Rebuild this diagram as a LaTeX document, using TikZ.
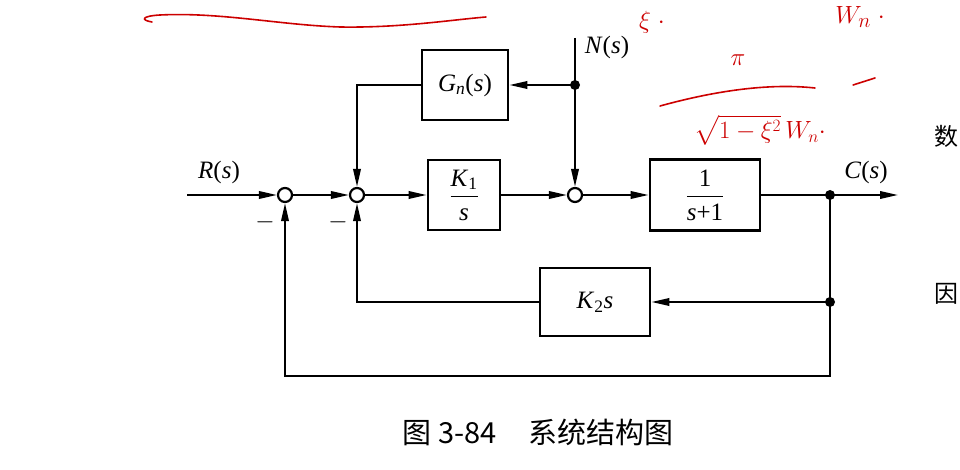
\documentclass[tikz,border=0pt]{standalone}
\usepackage{amsmath}
\usepackage{fontspec}
\setmainfont{Liberation Serif}
\newfontfamily\cjk{Noto Sans CJK SC}
\usetikzlibrary{arrows.meta}
\newcommand{\vi}[1]{\textit{#1}}
\begin{document}
\begin{tikzpicture}[x=1pt,y=-1pt,
  line width=2pt,
  >={Triangle[length=18pt,width=7.5pt]},
  blk/.style={draw,line width=2.8pt,minimum width=#1,inner sep=0pt},
  sumc/.style={draw,circle,line width=2.2pt,fill=white,minimum size=14pt,inner sep=0pt},
  dotc/.style={circle,fill=black,minimum size=10pt,inner sep=0pt},
  lbl/.style={font=\fontsize{25}{27}\selectfont},
  hand/.style={red!80!black,line width=1.6pt,line cap=round,line join=round}]
\useasboundingbox (0,0) rectangle (960,470);
% blocks
\node[blk=86pt,minimum height=70pt,lbl] (gn) at (465,85) {\vi{G}\textsubscript{\vi{n}}(\vi{s})};
\node[blk=72pt,minimum height=70pt,lbl] (k1) at (464,195) {$\dfrac{\text{\vi{K}}_{\text{1}}}{\text{\vi{s}}}$};
\node[blk=110pt,minimum height=71pt,lbl] (pl) at (705,195) {$\dfrac{\text{1}}{\text{\vi{s}+1}}$};
\node[blk=110pt,minimum height=68pt,lbl] (k2) at (595,302) {\vi{K}\textsubscript{2}\vi{s}};
% summing points
\node[sumc] (s1) at (285,195) {};
\node[sumc] (s2) at (357,195) {};
\node[sumc] (s3) at (575,195) {};
% take-off points
\node[dotc] (nd) at (575,85) {};
\node[dotc] (cd) at (830,195) {};
\node[dotc] (fd) at (830,302) {};
% free ends
\coordinate (rin) at (187,195);
\coordinate (cout) at (898,195);
\coordinate (nin) at (575,38);
\coordinate (gl) at (357,85);
\coordinate (kl) at (357,302);
\coordinate (bl) at (830,376);
\coordinate (br) at (285,376);
% labels
\node[lbl] (rl) at (219,172) {\vi{R}(\vi{s})};
\node[lbl] (cl) at (866,172) {\vi{C}(\vi{s})};
\node[lbl] (nl) at (607,47) {\vi{N}(\vi{s})};
\node[lbl] (m1) at (265,222) {$-$};
\node[lbl] (m2) at (338,222) {$-$};
% forward path
\draw[->] (rin) -- (s1.west);
\draw[->] (s1.east) -- (s2.west);
\draw[->] (s2.east) -- (k1.west);
\draw[->] (k1.east) -- (s3.west);
\draw[->] (s3.east) -- (pl.west);
\draw (pl.east) -- (cd.center);
\draw[->] (cd.center) -- (cout);
% disturbance
\draw (nin) -- (nd.center);
\draw[->] (nd.center) -- (s3.north);
\draw[->] (nd.center) -- (gn.east);
\draw[->] (gn.west) -- (gl) -- (s2.north);
% inner feedback
\draw (cd.center) -- (fd.center);
\draw[->] (fd.center) -- (k2.east);
\draw[->] (k2.west) -- (kl) -- (s2.south);
% outer feedback
\draw[->] (fd.center) -- (bl) -- (br) -- (s1.south);
% caption
\node[font=\cjk\fontsize{29}{31}\selectfont] (cap) at (538,432) {图 3-84\hspace{1.1em}系统结构图};
\node[font=\cjk\fontsize{24}{26}\selectfont,inner sep=0pt] (pg1) at (946,136) {数};
\node[font=\cjk\fontsize{24}{26}\selectfont,inner sep=0pt] (pg2) at (946,294) {因};
% handwritten annotations
\draw[hand] (152,22) .. controls (140,20) and (142,16) .. (160,15) .. controls (220,12) and (280,25) .. (340,27) .. controls (400,28) and (450,20) .. (486,17);
\node[text=red!80!black,font=\fontsize{30}{30}\selectfont] (h1) at (652,22) {$\xi\;\cdot$};
\node[text=red!80!black,font=\fontsize{30}{30}\selectfont] (h2) at (860,17) {$W_n\;\cdot$};
\node[text=red!80!black,font=\fontsize{26}{26}\selectfont] (h3) at (738,60) {$\pi$};
\draw[hand] (660,106) .. controls (700,95) and (760,82) .. (815,88);
\draw[hand] (853,85) -- (875,78);
\node[text=red!80!black,font=\fontsize{24}{24}\selectfont] (h4) at (760,130) {$\sqrt{1-\xi^2}\,W_n\cdot$};
\end{tikzpicture}
\end{document}
